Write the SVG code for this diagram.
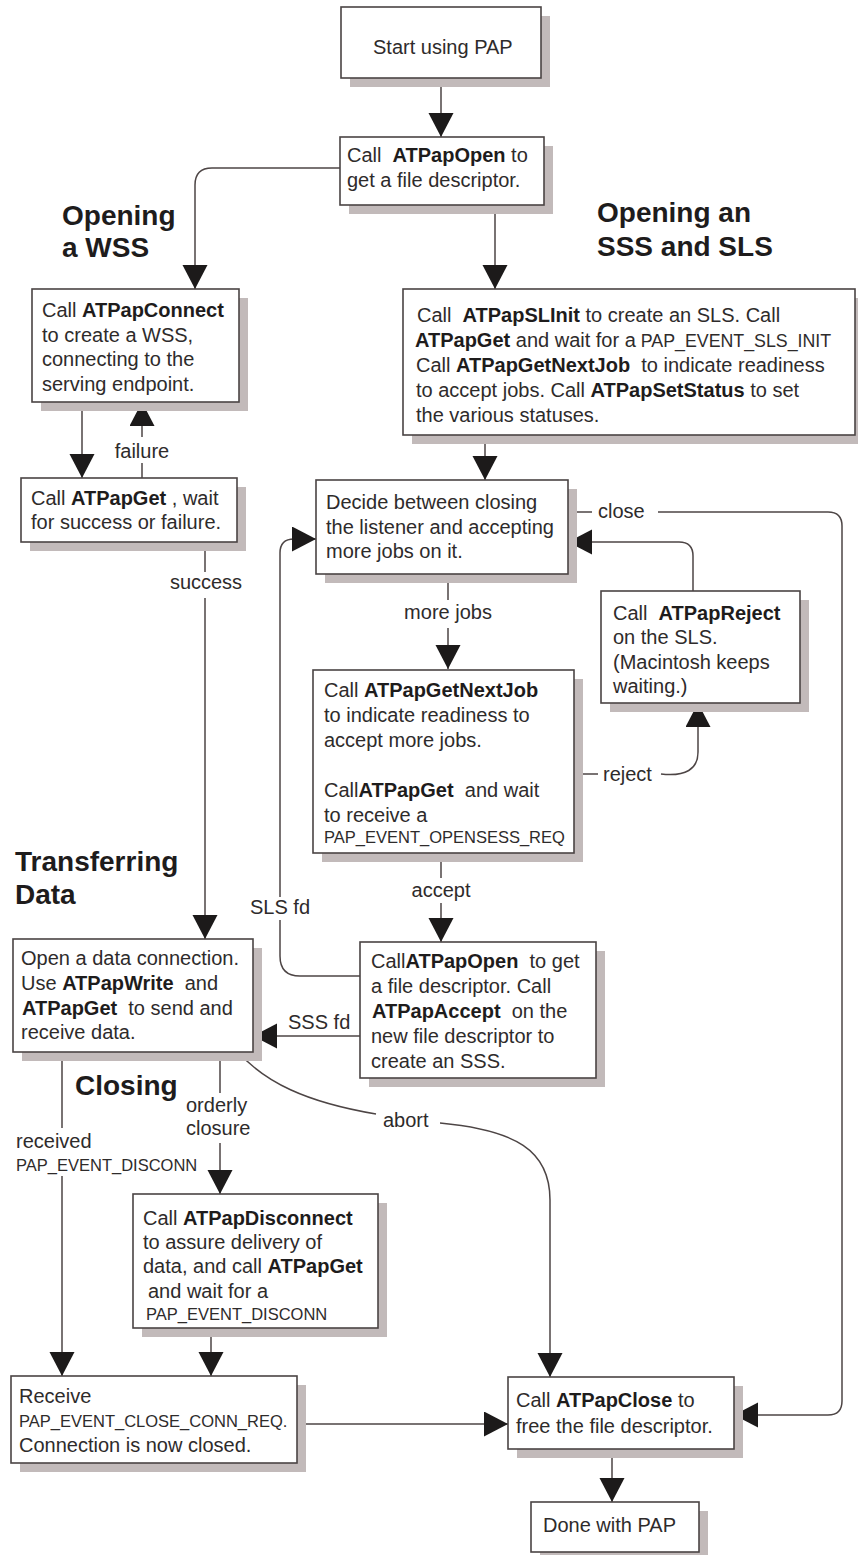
<svg xmlns="http://www.w3.org/2000/svg" width="858" height="1555" viewBox="0 0 858 1555">
<defs>
<marker id="ah" markerUnits="userSpaceOnUse" markerWidth="24" markerHeight="26" refX="24" refY="12.5" orient="auto">
<path d="M0,0 L24,12.5 L0,25 z" fill="#1c1a1a"/>
</marker>
<style>
.box{fill:#fff;stroke:#4a4444;stroke-width:1.6}
.sh{fill:#c2baba}
.t{font-family:"Liberation Sans",Arial,sans-serif;font-size:20px;fill:#2e2b2b}
.b{font-weight:bold;fill:#1e1c1c}
.sm{font-size:16.5px}
.h{font-family:"Liberation Sans",Arial,sans-serif;font-size:28px;font-weight:bold;fill:#1e1c1c}
.c{fill:none;stroke:#4d4545;stroke-width:1.5}
.a{marker-end:url(#ah)}
.m{text-anchor:middle}
</style>
</defs>
<rect width="858" height="1555" fill="#fff"/>

<g id="headings">
<text class="h" x="62" y="225">Opening</text>
<text class="h" x="62" y="257">a WSS</text>
<text class="h" x="597" y="222">Opening an</text>
<text class="h" x="597" y="256">SSS and SLS</text>
<text class="h" x="15" y="871">Transferring</text>
<text class="h" x="15" y="904">Data</text>
<text class="h" x="75" y="1095">Closing</text>
</g>

<g id="connectors">
<path class="c a" d="M441,78 V137"/>
<path class="c a" d="M340,168 H212 Q195,168 195,185 V289"/>
<path class="c a" d="M495,205 V289"/>
<path class="c a" d="M82,402 V478"/>
<path class="c" d="M142,463 V478"/>
<path class="c a" d="M142,437 V402"/>
<path class="c" d="M205,542 V572"/>
<path class="c a" d="M205,598 V939"/>
<path class="c a" d="M485,435 V480"/>
<path class="c" d="M448,574 V600"/>
<path class="c a" d="M448,628 V669"/>
<path class="c" d="M568,512 H592"/>
<path class="c a" d="M658,512 H828 Q842,512 842,526 V1401 Q842,1415 828,1415 H734"/>
<path class="c a" d="M693,591 V556 Q693,542 679,542 H568"/>
<path class="c" d="M574,774 H598"/>
<path class="c a" d="M661,774 Q698,778 698,752 V703"/>
<path class="c" d="M441,853 V878"/>
<path class="c a" d="M441,903 V942"/>
<path class="c" d="M360,976 H300 Q280,976 280,956 V920"/>
<path class="c a" d="M280,897 V553 Q280,539 294,539 H316"/>
<path class="c a" d="M360,1036 H253"/>
<path class="c" d="M62,1052 V1128"/>
<path class="c a" d="M62,1176 V1376"/>
<path class="c" d="M220,1052 V1093"/>
<path class="c a" d="M220,1143 V1194"/>
<path class="c a" d="M211,1328 V1376"/>
<path class="c" d="M238,1052 C265,1082 305,1102 376,1114"/>
<path class="c a" d="M440,1123 C515,1130 550,1150 550,1200 V1377"/>
<path class="c a" d="M297,1424 H508"/>
<path class="c a" d="M612,1449 V1502"/>
<text class="t m" x="142" y="458">failure</text>
<text class="t m" x="206" y="589">success</text>
<text class="t" x="598" y="518">close</text>
<text class="t m" x="448" y="619">more jobs</text>
<text class="t" x="603" y="781">reject</text>
<text class="t m" x="441" y="897">accept</text>
<text class="t m" x="280" y="914">SLS fd</text>
<text class="t" x="288" y="1029">SSS fd</text>
<text class="t" x="16" y="1148">received</text>
<text class="t sm" x="16" y="1171">PAP_EVENT_DISCONN</text>
<text class="t" x="186" y="1112">orderly</text>
<text class="t" x="186" y="1135">closure</text>
<text class="t" x="383" y="1127">abort</text>
</g>

<g id="n1">
<rect class="sh" x="350" y="16" width="200" height="71"/>
<rect class="box" x="341" y="7" width="200" height="71"/>
<text class="t" x="373" y="54">Start using PAP</text>
</g>

<g id="n2">
<rect class="sh" x="349" y="146" width="204" height="68"/>
<rect class="box" x="340" y="137" width="204" height="68"/>
<text class="t" x="347" y="162" xml:space="preserve">Call  <tspan class="b">ATPapOpen</tspan> to</text>
<text class="t" x="347" y="187">get a file descriptor.</text>
</g>

<g id="n3">
<rect class="sh" x="41" y="298" width="207" height="113"/>
<rect class="box" x="32" y="289" width="207" height="113"/>
<text class="t" x="42" y="317">Call <tspan class="b">ATPapConnect</tspan></text>
<text class="t" x="42" y="342">to create a WSS,</text>
<text class="t" x="42" y="366">connecting to the</text>
<text class="t" x="42" y="391">serving endpoint.</text>
</g>

<g id="n4">
<rect class="sh" x="30" y="487" width="216" height="64"/>
<rect class="box" x="21" y="478" width="216" height="64"/>
<text class="t" x="31" y="505">Call <tspan class="b">ATPapGet</tspan> , wait</text>
<text class="t" x="31" y="529">for success or failure.</text>
</g>

<g id="n5">
<rect class="sh" x="412" y="298" width="452" height="146"/>
<rect class="box" x="403" y="289" width="452" height="146"/>
<text class="t" x="417" y="322" xml:space="preserve">Call  <tspan class="b">ATPapSLInit</tspan> to create an SLS. Call</text>
<text class="t" x="415" y="347"><tspan class="b">ATPapGet</tspan> and wait for a<tspan font-size="17.8"> PAP_EVENT_SLS_INIT</tspan></text>
<text class="t" x="416" y="372" xml:space="preserve">Call <tspan class="b">ATPapGetNextJob</tspan>  to indicate readiness</text>
<text class="t" x="416" y="397">to accept jobs. Call <tspan class="b">ATPapSetStatus</tspan> to set</text>
<text class="t" x="416" y="422">the various statuses.</text>
</g>

<g id="n6">
<rect class="sh" x="325" y="489" width="252" height="94"/>
<rect class="box" x="316" y="480" width="252" height="94"/>
<text class="t" x="326" y="509">Decide between closing</text>
<text class="t" x="326" y="534">the listener and accepting</text>
<text class="t" x="326" y="558">more jobs on it.</text>
</g>

<g id="n7">
<rect class="sh" x="610" y="600" width="199" height="112"/>
<rect class="box" x="601" y="591" width="199" height="112"/>
<text class="t" x="613" y="620" xml:space="preserve">Call  <tspan class="b">ATPapReject</tspan></text>
<text class="t" x="613" y="644">on the SLS.</text>
<text class="t" x="613" y="669">(Macintosh keeps</text>
<text class="t" x="613" y="693">waiting.)</text>
</g>

<g id="n8">
<rect class="sh" x="322" y="679" width="261" height="183"/>
<rect class="box" x="313" y="670" width="261" height="183"/>
<text class="t" x="324" y="697">Call <tspan class="b">ATPapGetNextJob</tspan></text>
<text class="t" x="324" y="722">to indicate readiness to</text>
<text class="t" x="324" y="747">accept more jobs.</text>
<text class="t" x="324" y="797" xml:space="preserve">Call<tspan class="b">ATPapGet</tspan>  and wait</text>
<text class="t" x="324" y="822">to receive a</text>
<text class="t sm" x="324" y="843">PAP_EVENT_OPENSESS_REQ</text>
</g>

<g id="n9">
<rect class="sh" x="369" y="951" width="236" height="136"/>
<rect class="box" x="360" y="942" width="236" height="136"/>
<text class="t" x="371" y="968" xml:space="preserve">Call<tspan class="b">ATPapOpen</tspan>  to get</text>
<text class="t" x="371" y="993">a file descriptor. Call</text>
<text class="t" x="372" y="1018" xml:space="preserve"><tspan class="b">ATPapAccept</tspan>  on the</text>
<text class="t" x="371" y="1043">new file descriptor to</text>
<text class="t" x="371" y="1068">create an SSS.</text>
</g>

<g id="n10">
<rect class="sh" x="22" y="948" width="240" height="113"/>
<rect class="box" x="13" y="939" width="240" height="113"/>
<text class="t" x="21" y="965">Open a data connection.</text>
<text class="t" x="21" y="990" xml:space="preserve">Use <tspan class="b">ATPapWrite</tspan>  and</text>
<text class="t" x="22" y="1015" xml:space="preserve"><tspan class="b">ATPapGet</tspan>  to send and</text>
<text class="t" x="21" y="1039">receive data.</text>
</g>

<g id="n11">
<rect class="sh" x="142" y="1203" width="245" height="134"/>
<rect class="box" x="133" y="1194" width="245" height="134"/>
<text class="t" x="143" y="1225">Call <tspan class="b">ATPapDisconnect</tspan></text>
<text class="t" x="143" y="1249">to assure delivery of</text>
<text class="t" x="143" y="1273">data, and call <tspan class="b">ATPapGet</tspan></text>
<text class="t" x="148" y="1298">and wait for a</text>
<text class="t sm" x="146" y="1320">PAP_EVENT_DISCONN</text>
</g>

<g id="n12">
<rect class="sh" x="20" y="1385" width="286" height="87"/>
<rect class="box" x="11" y="1376" width="286" height="87"/>
<text class="t" x="19" y="1403">Receive</text>
<text class="t sm" x="19" y="1427">PAP_EVENT_CLOSE_CONN_REQ.</text>
<text class="t" x="19" y="1452">Connection is now closed.</text>
</g>

<g id="n13">
<rect class="sh" x="517" y="1386" width="226" height="72"/>
<rect class="box" x="508" y="1377" width="226" height="72"/>
<text class="t" x="516" y="1407">Call <tspan class="b">ATPapClose</tspan> to</text>
<text class="t" x="516" y="1433">free the file descriptor.</text>
</g>

<g id="n14">
<rect class="sh" x="540" y="1511" width="168" height="50"/>
<rect class="box" x="531" y="1502" width="168" height="50"/>
<text class="t" x="543" y="1532">Done with PAP</text>
</g>
</svg>
